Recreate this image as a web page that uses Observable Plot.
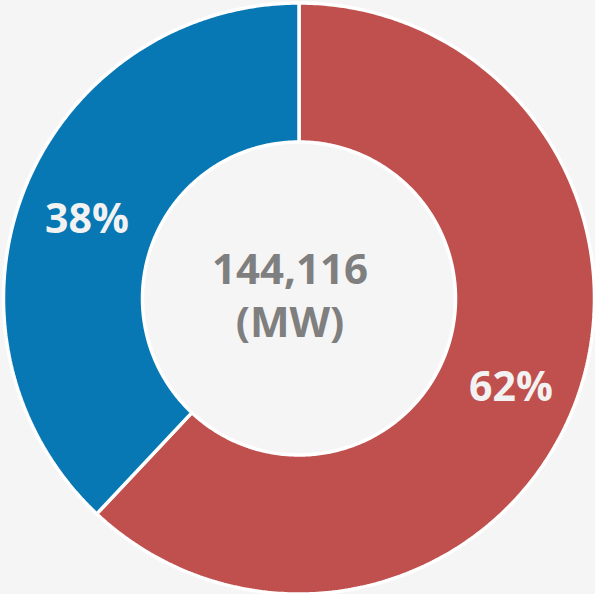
<!DOCTYPE html>
<html>
<head>
<meta charset="utf-8">
<script src="https://cdn.jsdelivr.net/npm/d3@7"></script>
<script src="https://cdn.jsdelivr.net/npm/@observablehq/plot@0.6"></script>
<style>
  html, body { margin: 0; padding: 0; background: #f5f5f5; }
  #chart svg { display: block; }
</style>
</head>
<body>
<div id="chart"></div>
<script>
// Installed capacity split, in percent of the total
const slices = ["Share A", "Share B"];
const shares = [62, 38];
const sliceColors = ["#c0504d", "#0878b4"];
const totalLabel = "144,116";
const unitLabel = "(MW)";

// Layout
const W = 595, H = 594;
const cx = 298.5, cy = 298;
const outerR = 295.5, innerR = 156.5;
const labelR = (outerR + innerR) / 2 + 2;
const steps = 360;

const pie = d3.pie().sort(null).value(d => d.share);
const arcs = pie(slices.map((name, i) => ({ name, share: shares[i], color: sliceColors[i] })));

// Outline of one ring slice: along the outer arc, then back along the inner arc
function ringOutline(a) {
  const pts = [];
  for (let k = 0; k <= steps; k++) {
    const t = a.startAngle + (a.endAngle - a.startAngle) * k / steps;
    pts.push({ x: cx + outerR * Math.sin(t), y: cy - outerR * Math.cos(t) });
  }
  for (let k = steps; k >= 0; k--) {
    const t = a.startAngle + (a.endAngle - a.startAngle) * k / steps;
    pts.push({ x: cx + innerR * Math.sin(t), y: cy - innerR * Math.cos(t) });
  }
  return pts;
}

const midAngle = a => (a.startAngle + a.endAngle) / 2;

const chart = Plot.plot({
  width: W,
  height: H,
  margin: 0,
  x: { type: "linear", domain: [0, W], range: [0, W], axis: null },
  y: { type: "linear", domain: [0, H], range: [0, H], axis: null },
  style: { background: "#f5f5f5", fontFamily: "'Open Sans', sans-serif" },
  marks: [
    ...arcs.map(a => Plot.line(ringOutline(a), {
      x: "x",
      y: "y",
      curve: "linear-closed",
      fill: a.data.color,
      stroke: "white",
      strokeWidth: 3.5,
      strokeLinejoin: "miter"
    })),
    Plot.text(arcs, {
      x: a => cx + labelR * Math.sin(midAngle(a)),
      y: a => cy - labelR * Math.cos(midAngle(a)),
      text: a => `${a.data.share}%`,
      fill: "#f2f2f2",
      fontSize: 41,
      fontWeight: "bold",
      dy: 5
    }),
    Plot.text([`${totalLabel}\n${unitLabel}`], {
      x: [cx - 9],
      y: [cy - 5],
      text: d => d,
      fill: "#7f7f7f",
      fontSize: 42,
      fontWeight: "bold",
      lineHeight: 1.25
    })
  ]
});

document.getElementById("chart").appendChild(chart);
</script>
</body>
</html>
